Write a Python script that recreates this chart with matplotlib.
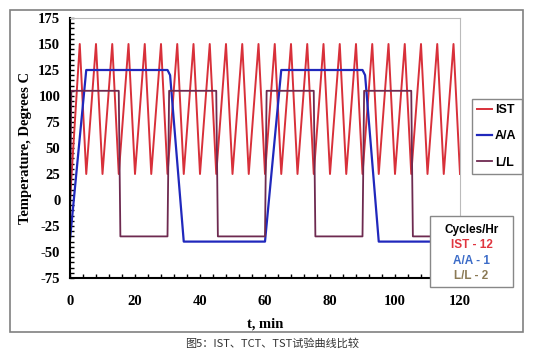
import matplotlib
matplotlib.use('Agg')
import matplotlib.pyplot as plt
from matplotlib.patches import Rectangle
from matplotlib.ticker import MultipleLocator

plt.rcParams['axes.unicode_minus'] = False

# IST: 12 cycles/hr, 25 -> 150 C
ist_t = [0, 3, 5, 8, 10, 13, 15, 18, 20, 23, 25, 28, 30, 33, 35, 38, 40, 43, 45, 48, 50,
         53, 55, 58, 60, 63, 65, 68, 70, 73, 75, 78, 80, 83, 85, 88, 90, 93, 95, 98, 100,
         103, 105, 108, 110, 113, 115, 118, 120]
ist_temp = [0, 150, 25, 150, 25, 150, 25, 150, 25, 150, 25, 150, 25, 150, 25, 150, 25, 150, 25,
            150, 25, 150, 25, 150, 25, 150, 25, 150, 25, 150, 25, 150, 25, 150, 25, 150, 25,
            150, 25, 150, 25, 150, 25, 150, 25, 150, 25, 150, 25]

# A/A: 1 cycle/hr, -40 -> 125 C
aa_t = [0, 5, 30, 30.8, 35, 60, 65, 90, 90.8, 95, 120]
aa_temp = [-38, 125, 125, 120, -40, -40, 125, 125, 120, -40, -40]

# L/L: 2 cycles/hr, -35 -> 105 C
ll_t = [0, 0.4, 15, 15.5, 30, 30.5, 45, 45.5, 60, 60.5, 75, 75.5, 90, 90.5, 105, 105.5, 120]
ll_temp = [-35, 105, 105, -35, -35, 105, 105, -35, -35, 105, 105, -35, -35, 105, 105, -35, -35]

series_names = ['IST', 'A/A', 'L/L']
series_colors = ['#D8303A', '#2028BC', '#6E2A50']
rate_labels = ['IST - 12', 'A/A - 1', 'L/L - 2']
rate_colors = ['#E0353F', '#3C6CC8', '#8B7A55']

W, H = 533, 352
fig = plt.figure(figsize=(W / 100, H / 100), dpi=100)
ax = fig.add_axes([70 / W, 1 - 278 / H, 390 / W, 260 / H])

lines = []
for t, v, name, col, lw in zip([ist_t, aa_t, ll_t], [ist_temp, aa_temp, ll_temp],
                               series_names, series_colors, [1.4, 1.6, 1.3]):
    ln, = ax.plot(t, v, color=col, lw=lw, label=name)
    lines.append(ln)

ax.set_xlim(0, 120)
ax.set_ylim(-75, 175)
ax.xaxis.set_major_locator(MultipleLocator(20))
ax.xaxis.set_minor_locator(MultipleLocator(4))
ax.yaxis.set_major_locator(MultipleLocator(25))
ax.yaxis.set_minor_locator(MultipleLocator(5))
ax.tick_params(which='both', direction='in', length=3, width=1, color='black')
ax.tick_params(axis='y', which='major', pad=7)
ax.tick_params(axis='x', which='major', pad=12)

serif = {'family': 'Liberation Serif', 'weight': 'bold', 'size': 10.5}
for lab in ax.get_xticklabels() + ax.get_yticklabels():
    lab.set_fontproperties(matplotlib.font_manager.FontProperties(**serif))

for s in ['top', 'right']:
    ax.spines[s].set_color('#BBBBBB')
    ax.spines[s].set_linewidth(0.8)
for s in ['left', 'bottom']:
    ax.spines[s].set_color('black')
    ax.spines[s].set_linewidth(1.5)

ax.set_xlabel('t, min', fontdict=serif)
ax.set_ylabel('Temperature, Degrees C', fontdict=serif)
ax.xaxis.label.set_va('center')
ax.yaxis.label.set_va('center')
ax.xaxis.set_label_coords(0.5, -0.177)
ax.yaxis.set_label_coords(-0.115, 0.5)

# series legend, right of the plot
leg = fig.legend(handles=lines, loc='upper left', bbox_to_anchor=(472 / W, 1 - 99 / H),
                 borderaxespad=0, fancybox=False, framealpha=1, edgecolor='#888888',
                 prop={'family': 'Liberation Sans', 'weight': 'bold', 'size': 9},
                 handlelength=1.2, handletextpad=0.25, labelspacing=1.15, borderpad=0.4)
leg.get_frame().set_linewidth(1)

# cycles/hr box
fig.add_artist(Rectangle((430 / W, 1 - 287 / H), 83 / W, 71 / H, transform=fig.transFigure,
                         facecolor='white', edgecolor='#888888', lw=1, zorder=5))
cx = 471.5 / W
fig.text(cx, 1 - 230 / H, 'Cycles/Hr', ha='center', va='center', color='black',
         family='Liberation Sans', weight='bold', size=8.5, zorder=6)
for i, (txt, col) in enumerate(zip(rate_labels, rate_colors)):
    fig.text(cx, 1 - (245.5 + 15.3 * i) / H, txt, ha='center', va='center', color=col,
             family='Liberation Sans', weight='bold', size=8.5, zorder=6)

# outer chart border
fig.add_artist(Rectangle((10 / W, 1 - 332 / H), 513 / W, 322 / H, transform=fig.transFigure,
                         fill=False, edgecolor='#808080', lw=1.2, zorder=1))

fig.text(272 / W, 1 - 343 / H, '图5：IST、TCT、TST试验曲线比较', ha='center', va='center',
         color='#333333', size=8, family=['Noto Sans CJK SC', 'DejaVu Sans'])

fig.savefig('out.png', dpi=100)
